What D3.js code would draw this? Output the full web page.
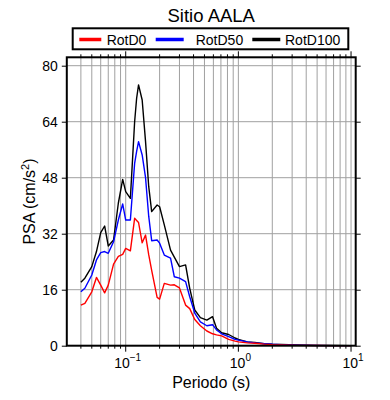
<!DOCTYPE html>
<html>
<head>
<meta charset="utf-8">
<script src="https://cdn.jsdelivr.net/npm/d3@7"></script>
<style>
	body { margin: 0; background: #fff; }
	text { font-family: "Liberation Sans", Arial, sans-serif; }
</style>
</head>
<body>
<svg width="390" height="400"></svg>
<script>
// periodos (s)
const periods = [0.040, 0.0434, 0.05, 0.055, 0.060, 0.065, 0.070, 0.078, 0.086, 0.094,
	0.100, 0.110, 0.120, 0.125, 0.130, 0.140, 0.150, 0.160, 0.170, 0.190,
	0.200, 0.220, 0.250, 0.270, 0.300, 0.340, 0.370, 0.410, 0.460, 0.525,
	0.590, 0.640, 0.710, 0.820, 0.935, 1.0, 1.2, 1.4, 1.7, 2.0,
	2.4, 3.3, 5, 7, 10];

const rotD0 = [11.6, 12.1, 15.4, 19.5, 17.3, 15.1, 17.3, 23.3, 25.5, 26.1,
	27.8, 27.1, 36.4, 35.8, 35.2, 29.4, 31.6, 26.0, 21.5, 13.8,
	13.3, 17.8, 17.3, 17.4, 16.5, 11.6, 10.6, 7.5, 5.7, 4.2,
	3.4, 3.1, 2.8, 1.8, 1.3, 1.1, 0.8, 0.7, 0.45, 0.3,
	0.2, 0.1, 0.05, 0.02, 0.01];

const rotD50 = [15.4, 16.4, 20.2, 24.5, 26.6, 26.9, 26.4, 29.7, 35.9, 40.5,
	35.9, 35.9, 52.1, 55.5, 58.3, 54.5, 48.0, 37.0, 30.0, 30.2,
	29.3, 25.9, 25.0, 19.7, 19.3, 18.3, 14.0, 9.3, 6.8, 5.7,
	6.0, 4.5, 3.4, 2.6, 1.8, 1.6, 1.1, 0.8, 0.55, 0.4,
	0.3, 0.15, 0.06, 0.03, 0.02];

const rotD100 = [18.1, 19.3, 22.6, 26.9, 32.3, 34.2, 28.5, 30.2, 40.7, 47.5,
	44.0, 42.1, 64.0, 70.7, 74.5, 70.2, 58.3, 45.5, 38.3, 40.2,
	39.7, 34.5, 27.3, 25.3, 22.6, 23.1, 16.4, 10.2, 8.0, 7.3,
	8.3, 5.0, 3.7, 3.2, 2.2, 1.8, 1.1, 0.9, 0.6, 0.45,
	0.35, 0.2, 0.08, 0.04, 0.02];

const seriesNames = ["RotD0", "RotD50", "RotD100"];
const seriesColors = ["#ff0000", "#0000ff", "#000000"];
const yTicks = [0, 16, 32, 48, 64, 80];
const xMajor = [0.1, 1, 10];
const xMajorLabels = [["10", "\u22121"], ["10", "0"], ["10", "1"]];

const svg = d3.select('svg');

const margin = { top: 57.3, right: 34.3, bottom: 54.3, left: 66.8 };
const width = +svg.attr('width');
const height = +svg.attr('height');

const xScale = d3.scaleLog()
	.domain([0.03, 11])
	.range([margin.left, width - margin.right]);

const yScale = d3.scaleLinear()
	.domain([0, 82.4])
	.range([height - margin.bottom, margin.top]);

// ticks menores del eje log: 2..9 por decada
const xMinor = [];
[0.01, 0.1, 1].forEach(d => {
	for (let k = 2; k <= 9; k++) xMinor.push(d * k);
});
const xGrid = xMinor.filter(v => v >= 0.0301 && v <= 10.9).concat(xMajor);

const x0 = xScale.range()[0], x1 = xScale.range()[1];
const y0 = yScale.range()[0], y1 = yScale.range()[1];

// grid
const grid = svg.append('g').attr('stroke', '#a0a0a0').attr('stroke-width', 1);
grid.selectAll('.vx').data(xGrid)
	.enter().append('line')
		.attr('x1', d => xScale(d)).attr('x2', d => xScale(d))
		.attr('y1', y0).attr('y2', y1);
grid.selectAll('.hy').data(yTicks.filter(d => d > 0))
	.enter().append('line')
		.attr('x1', x0).attr('x2', x1)
		.attr('y1', d => yScale(d)).attr('y2', d => yScale(d));

// curvas
const line = d3.line()
	.x(d => xScale(d[0]))
	.y(d => yScale(d[1]));

const seriesData = [rotD0, rotD50, rotD100];
[2, 1, 0].forEach(i => {
	svg.append('path')
		.datum(periods.map((p, j) => [p, seriesData[i][j]]))
		.attr('fill', 'none')
		.attr('stroke', seriesColors[i])
		.attr('stroke-width', 1.4)
		.attr('stroke-linejoin', 'round')
		.attr('d', line);
});

// ejes (estilo marco con ticks hacia afuera)
const tickFmt = () => '';
svg.append('g')
	.attr('transform', `translate(${x0},0)`)
	.call(d3.axisLeft(yScale).tickValues(yTicks).tickSize(5).tickPadding(4))
	.call(g => g.select('.domain').remove());
svg.append('g')
	.attr('transform', `translate(${x1},0)`)
	.call(d3.axisRight(yScale).tickValues(yTicks).tickSize(5).tickFormat(tickFmt))
	.call(g => g.select('.domain').remove());

[[y0, 1], [y1, -1]].forEach(([yy, dir]) => {
	const g = svg.append('g').attr('stroke', '#000');
	g.selectAll('line.mi').data(xMinor.filter(v => v >= 0.0301 && v <= 10.9))
		.enter().append('line')
			.attr('x1', d => xScale(d)).attr('x2', d => xScale(d))
			.attr('y1', yy).attr('y2', yy + dir * 3);
	g.selectAll('line.ma').data(xMajor)
		.enter().append('line')
			.attr('x1', d => xScale(d)).attr('x2', d => xScale(d))
			.attr('y1', yy).attr('y2', yy + dir * 6);
});

svg.selectAll('g text').attr('font-size', 14).attr('fill', '#000')
	.style('font-family', '"Liberation Sans", Arial, sans-serif');

// etiquetas 10^n
const xl = svg.append('g').attr('font-size', 14).attr('text-anchor', 'middle');
xMajor.forEach((v, i) => {
	const t = xl.append('text')
		.attr('x', xScale(v) + 2)
		.attr('y', y0 + 22);
	t.append('tspan').text(xMajorLabels[i][0]);
	t.append('tspan').attr('font-size', 10).attr('dy', -7).text(xMajorLabels[i][1]);
});

// marco
svg.append('rect')
	.attr('x', x0).attr('y', y1)
	.attr('width', x1 - x0).attr('height', y0 - y1)
	.attr('fill', 'none').attr('stroke', '#000').attr('stroke-width', 2);

// titulos
svg.append('text')
	.attr('x', (x0 + x1) / 2).attr('y', 21.5)
	.attr('text-anchor', 'middle').attr('font-size', 18.5)
	.text('Sitio AALA');

svg.append('text')
	.attr('x', (x0 + x1) / 2).attr('y', 388)
	.attr('text-anchor', 'middle').attr('font-size', 16)
	.text('Periodo (s)');

const yl = svg.append('text')
	.attr('transform', `translate(35, ${(y0 + y1) / 2}) rotate(-90)`)
	.attr('text-anchor', 'middle').attr('font-size', 16);
yl.append('tspan').text('PSA (cm/s');
yl.append('tspan').attr('font-size', 11).attr('dy', -6).text('2');
yl.append('tspan').attr('dy', 6).text(')');

// leyenda
const legend = svg.append('g');
legend.append('rect')
	.attr('x', 72.7).attr('y', 28.3).attr('width', 275.6).attr('height', 21)
	.attr('fill', '#fff').attr('stroke', '#000').attr('stroke-width', 2);

const legendLineX = [79.3, 155.7, 252.3];
const legendItems = legend.selectAll('.item').data(seriesNames)
	.enter().append('g')
		.attr('transform', (d, i) => `translate(${legendLineX[i]}, 39.5)`);
legendItems.append('line')
	.attr('x1', 0).attr('x2', (d, i) => i === 0 ? 22 : 28)
	.attr('stroke', (d, i) => seriesColors[i]).attr('stroke-width', 3.5);
legendItems.append('text')
	.attr('x', (d, i) => i === 1 ? 40 : i === 0 ? 27.4 : 32.7)
	.attr('y', 5)
	.attr('font-size', 14)
	.text(d => d);
</script>
</body>
</html>
